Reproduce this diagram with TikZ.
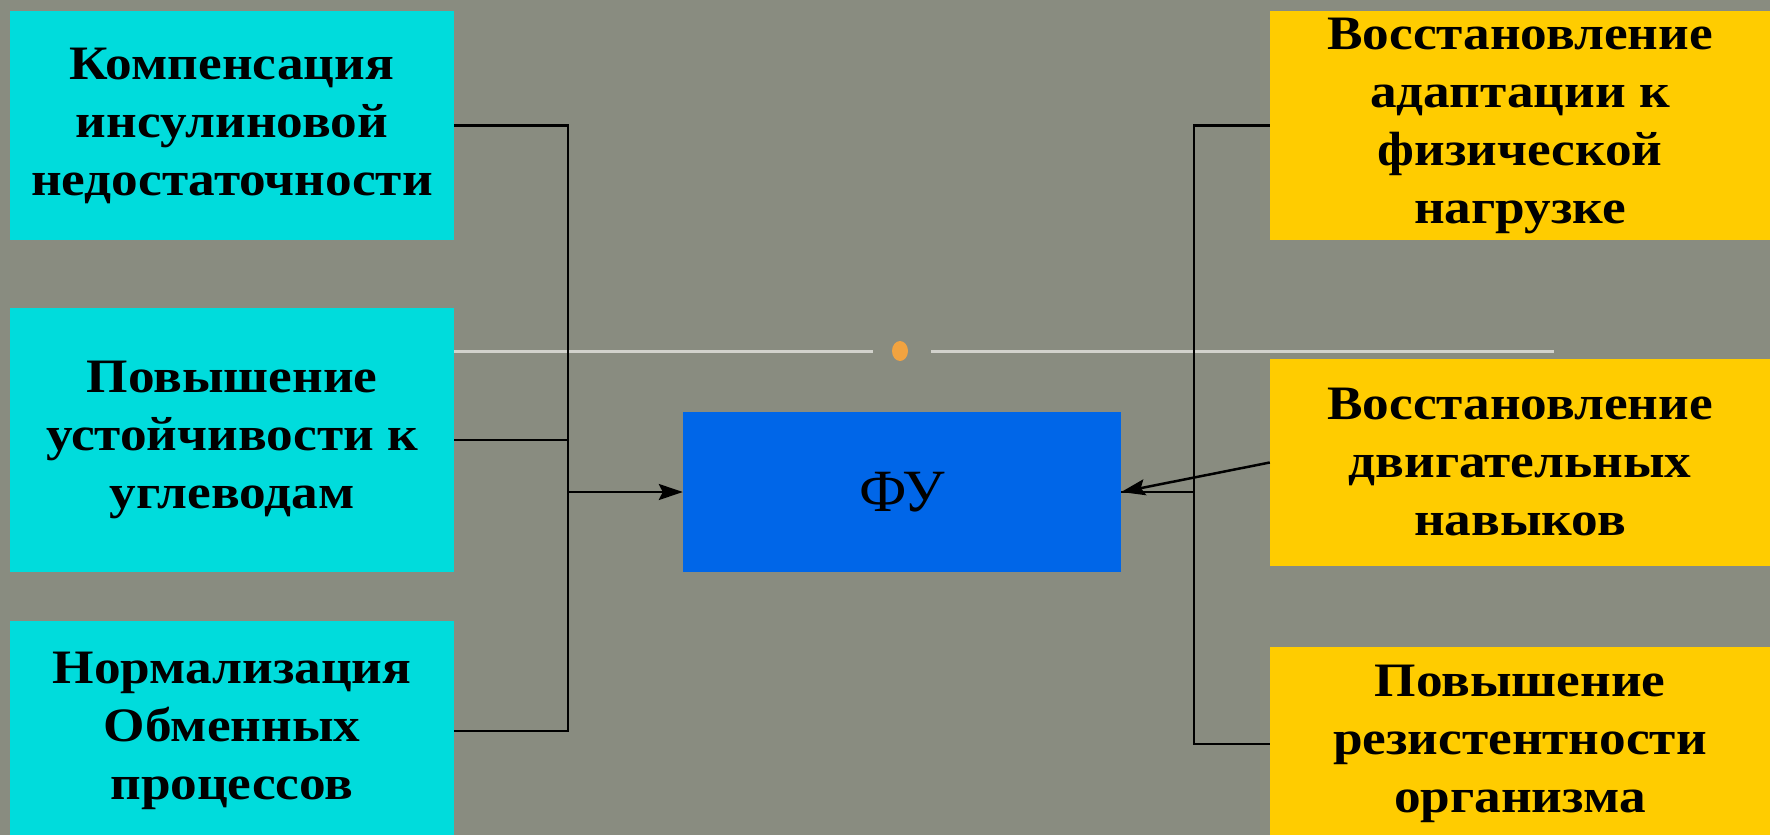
\documentclass[tikz,border=0pt]{standalone}
\usepackage{fontspec}
\setmainfont{Liberation Serif}
\newfontfamily\goalfont[FakeStretch=1.11]{Liberation Serif}
\usetikzlibrary{arrows.meta}
\definecolor{slidegray}{HTML}{898C80}
\definecolor{boxcyan}{HTML}{00DCDC}
\definecolor{boxyellow}{HTML}{FFCC00}
\definecolor{fublue}{HTML}{0066E8}
\definecolor{dotorange}{HTML}{F2A340}
\definecolor{rulegray}{HTML}{D2D2CC}
\tikzset{
  goalbox/.style={inner sep=0pt, align=center, font=\goalfont\fontsize{48}{58}\selectfont\bfseries},
  leftgoal/.style={goalbox, fill=boxcyan, minimum width=444pt},
  rightgoal/.style={goalbox, fill=boxyellow, minimum width=500pt},
  link/.style={line width=2.5pt, black},
  tip/.style={-{Stealth[length=24pt,width=16pt,inset=4pt]}},
}
\begin{document}
\begin{tikzpicture}[x=1pt,y=-1pt]
 \clip (0,0) rectangle (1770,835);
 \fill[slidegray] (0,0) rectangle (1770,835);
 % slide rule with dot
 \draw[rulegray, line width=3pt] (454,351) -- (873,351);
 \draw[rulegray, line width=3pt] (931,351) -- (1554,351);
 \fill[dotorange] (900,351) ellipse (8pt and 10pt);
 % left column
 \node[leftgoal, minimum height=229pt] (k1) at (232,125.5) {Компенсация\\инсулиновой\\недостаточности};
 \node[leftgoal, minimum height=264pt] (k2) at (232,440) {Повышение\\устойчивости к\\углеводам};
 \node[leftgoal, minimum height=220pt] (k3) at (232,731) {Нормализация\\Обменных\\процессов};
 % centre
 \node[fill=fublue, minimum width=438pt, minimum height=160pt, inner sep=0pt,
       font=\fontsize{60}{70}\selectfont] (fu) at (902,492) {ФУ};
 % right column
 \node[rightgoal, minimum height=229pt] (v1) at (1520,125.5) {Восстановление\\адаптации к\\физической\\нагрузке};
 \node[rightgoal, minimum height=207pt] (v2) at (1520,462.5) {Восстановление\\двигательных\\навыков};
 \node[rightgoal, minimum height=194pt] (v3) at (1520,744) {Повышение\\резистентности\\организма};
 % connectors
 \coordinate (ljoin) at (568,492);
 \coordinate (rjoin) at (1194,492);
 \draw[link] (k1.east) -| (ljoin) |- (k3.east);
 \draw[link] (k2.east) -- (k2.east -| ljoin);
 \draw[link, tip] (ljoin) -- (fu.west);
 \draw[link] (v1.west) -| (rjoin) |- (v3.west);
 \draw[link] (fu.east) -- (rjoin);
 \draw[link, tip] (v2.west) -- (fu.east);
\end{tikzpicture}
\end{document}
